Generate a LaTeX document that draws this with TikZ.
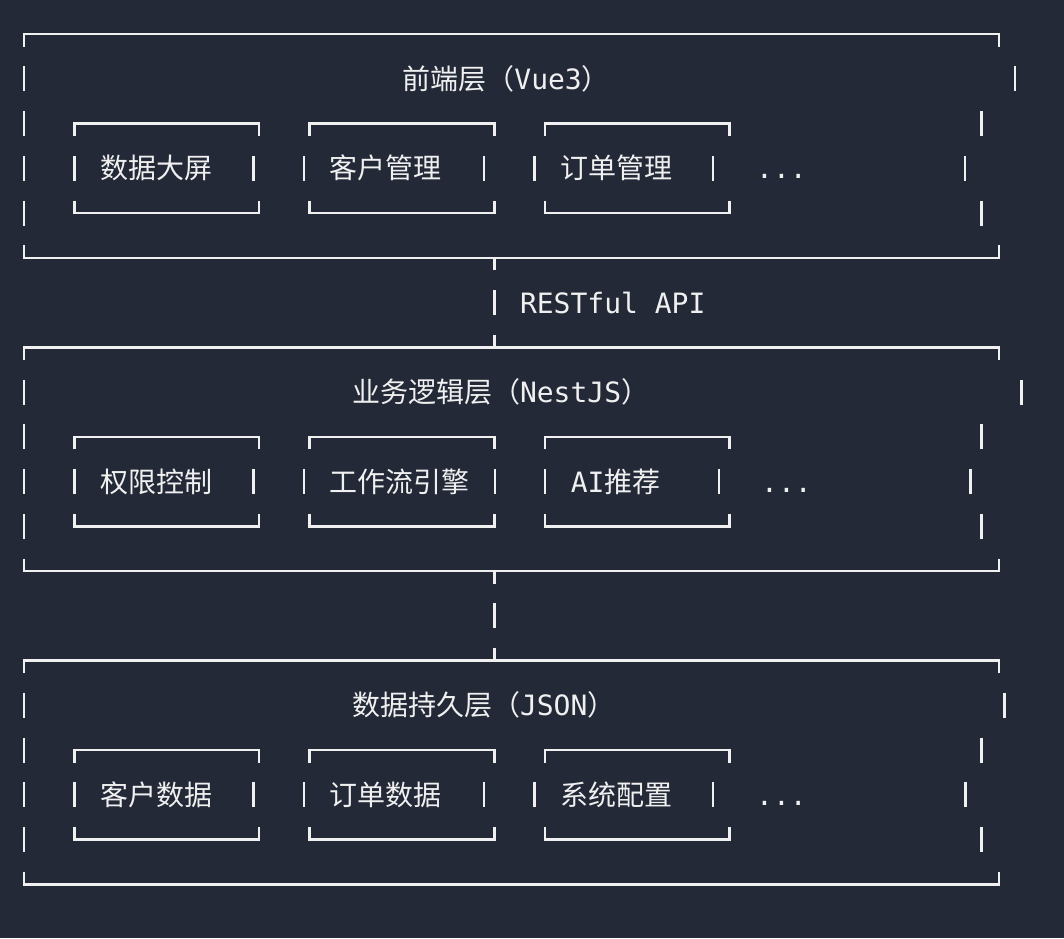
\documentclass[tikz,border=0pt]{standalone}
\usepackage{fontspec}
\setmainfont{DejaVu Sans Mono}
\newfontfamily\cjk{Noto Sans CJK SC}
\begin{document}
\begin{tikzpicture}[x=0.5pt, y=-0.5pt, line join=miter,
  wire/.style={draw=ink, line width=1.25pt},
  txt/.style={anchor=base west, inner sep=0pt, text=ink, font=\fontsize{14}{14}\selectfont}]
  \definecolor{panel}{RGB}{35,41,55}
  \definecolor{ink}{RGB}{240,240,240}
  \fill[panel] (0,0) rectangle (1064,938);
  \useasboundingbox (0,0) rectangle (1064,938);
  % three layers: top row, right bar of title row, right bar of item row
  \foreach \t/\ra/\rc in {34/1015.2/965, 347.25/1021.7/970.7, 660.5/1004.3/965.7}{
    \draw[wire] (24,\t+12.5) -- (24,\t) -- (999,\t) -- (999,\t+12.5);
    \draw[wire] (24,\t+211.25) -- (24,\t+223.75) -- (999,\t+223.75) -- (999,\t+211.25);
    \foreach \r in {1,2,3,4}
      \draw[wire] (24,\t+44.75*\r-12.5) -- ++(0,25);
    \draw[wire] (\ra,\t+32.25) -- ++(0,25);
    \draw[wire] (981.6,\t+77) -- ++(0,25);
    \draw[wire] (\rc,\t+121.75) -- ++(0,25);
    \draw[wire] (981.6,\t+166.5) -- ++(0,25);
    \foreach \a/\b in {74.4/259.2, 309.6/494.4, 544.8/729.6}{
      \draw[wire] (\a,\t+102) -- (\a,\t+89.5) -- (\b,\t+89.5) -- (\b,\t+102);
      \draw[wire] (\a,\t+166.5) -- (\a,\t+179) -- (\b,\t+179) -- (\b,\t+166.5);
    }
  }
  % item row bars
  \foreach \x in {74.4,253.6,304,484,534.6,713}{
    \draw[wire] (\x,155.75) -- ++(0,25);
    \draw[wire] (\x,782.25) -- ++(0,25);
  }
  \foreach \x in {74.4,253.6,304,494.8,545.2,718.8}
    \draw[wire] (\x,469) -- ++(0,25);

  % front end
  \node[txt] (feTitle) at (402,89.25) {{\cjk 前端层（}Vue3{\cjk ）}};
  \node[txt] (feScreen) at (99.6,178.75) {\cjk 数据大屏};
  \node[txt] (feClient) at (329.2,178.75) {\cjk 客户管理};
  \node[txt] (feOrder) at (559.8,178.75) {\cjk 订单管理};
  \node[txt] (feMore) at (755.8,178.75) {...};
  % business logic
  \node[txt] (beTitle) at (351.6,402.5) {{\cjk 业务逻辑层（}NestJS{\cjk ）}};
  \node[txt] (beAuth) at (99.6,492) {\cjk 权限控制};
  \node[txt] (beFlow) at (329.2,492) {\cjk 工作流引擎};
  \node[txt] (beAi) at (570.4,492) {AI{\cjk 推荐}};
  \node[txt] (beMore) at (760.8,492) {...};
  % persistence
  \node[txt] (dbTitle) at (351.6,715.75) {{\cjk 数据持久层（}JSON{\cjk ）}};
  \node[txt] (dbClient) at (99.6,805.25) {\cjk 客户数据};
  \node[txt] (dbOrder) at (329.2,805.25) {\cjk 订单数据};
  \node[txt] (dbConf) at (559.8,805.25) {\cjk 系统配置};
  \node[txt] (dbMore) at (755.8,805.25) {...};

  % links between layers
  \coordinate (feBot) at (494.4,257.75);
  \coordinate (beTop) at (494.4,347.25);
  \coordinate (beBot) at (494.4,571);
  \coordinate (dbTop) at (494.4,660.5);
  \draw[wire] (feBot) -- ++(0,12.5);
  \draw[wire] (feBot) ++(0,32.25) -- ++(0,25);
  \draw[wire] (beTop) -- ++(0,-12.5);
  \node[txt] (api) at (519.6,313) {RESTful API};
  \draw[wire] (beBot) -- ++(0,12.5);
  \draw[wire] (beBot) ++(0,32.25) -- ++(0,25);
  \draw[wire] (dbTop) -- ++(0,-12.5);
\end{tikzpicture}
\end{document}
